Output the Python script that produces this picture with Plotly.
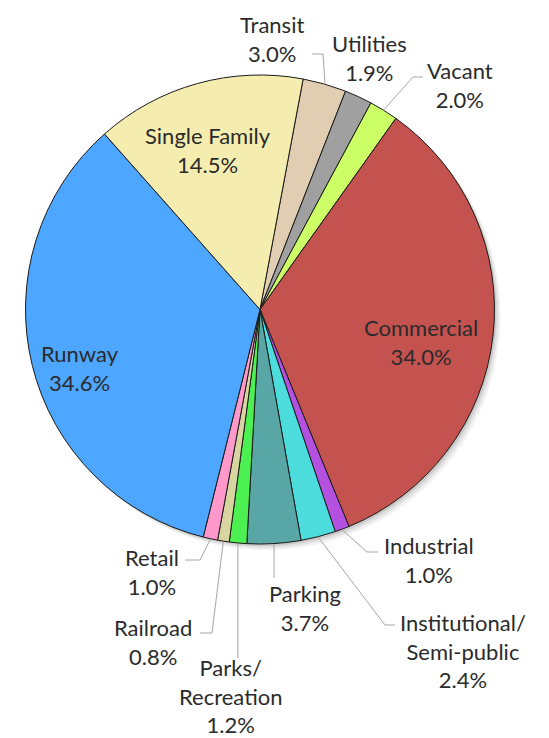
import math
import plotly.graph_objects as go

# ---- data ----
categories = ["Transit", "Utilities", "Vacant", "Commercial", "Industrial",
              "Institutional/<br>Semi-public", "Parking", "Parks/<br>Recreation",
              "Railroad", "Retail", "Runway", "Single Family"]
values = [3.0, 1.9, 2.0, 34.0, 1.0, 2.4, 3.7, 1.2, 0.8, 1.0, 34.6, 14.5]
colors = ["#e1cdb2", "#a0a0a0", "#ccff66", "#c4524f", "#b551e0", "#4cdcdc",
          "#59a6a6", "#4cf050", "#d9d5a0", "#ff99cc", "#4da6ff", "#f5edb0"]

# ---- layout (screen pixels) ----
W, H = 549, 738
OFF = 8  # page body margin
FW, FH = W - OFF, H - OFF
CX, CY, R = 260.0, 309.5, 234.5
ROT = 10.6
FONT = "Lato"
FS = 22
TXT = "#2b2b2b"

def px(x):
    return (x - OFF) / FW

def py(y):
    return 1 - (y - OFF) / FH

# label centre positions (px) per slice index
label_pos = {0: (272, 39), 1: (369, 58), 2: (460, 85), 3: (421, 342),
             4: (429, 560), 5: (463, 651), 6: (305, 608), 7: (230, 696),
             8: (153, 642), 9: (152, 572), 10: (80, 368), 11: (208, 150)}
# leader elbow/end points (px); 'v' means vertical line to given y
leaders = {0: [(323, 54), (312, 54)],
           2: [(413, 77), (423, 77)],
           4: [(367, 552), (378, 552)],
           5: [(385, 625), (395, 625)],
           6: [("v", 578)],
           7: [("v", 658)],
           8: [(212, 633), (200, 633)],
           9: [(200, 560), (185, 560)]}

fig = go.Figure()
fig.add_trace(go.Pie(
    labels=categories, values=values, sort=False, direction="clockwise",
    rotation=ROT, textinfo="none", hoverinfo="label+percent",
    marker=dict(colors=colors, line=dict(color="#1a1a1a", width=1)),
    domain=dict(x=[px(CX - R), px(CX + R)], y=[py(CY + R), py(CY - R)]),
    showlegend=False,
))

shapes = []
# soft shadow
for off, op in [(6, 0.05), (4, 0.07), (2, 0.10)]:
    shapes.append(dict(type="circle", xref="paper", yref="paper", layer="below",
                       x0=px(CX - R + off), x1=px(CX + R + off),
                       y0=py(CY + R + off), y1=py(CY - R + off),
                       fillcolor=f"rgba(0,0,0,{op})", line=dict(width=0)))

total = sum(values)
cum = 0.0
annotations = []
for i, (cat, v) in enumerate(zip(categories, values)):
    mid = ROT + (cum + v / 2) / total * 360.0
    cum += v
    a = math.radians(mid)
    sx, sy = CX + (R + 1) * math.sin(a), CY - (R + 1) * math.cos(a)
    if i in leaders:
        pts = [(sx, sy)]
        for p in leaders[i]:
            if p[0] == "v":
                pts.append((sx, p[1]))
            else:
                pts.append(p)
        path = "M " + " L ".join(f"{px(x)},{py(y)}" for x, y in pts)
        shapes.append(dict(type="path", xref="paper", yref="paper", path=path,
                           line=dict(color="#a6a6a6", width=1)))
    lx, ly = label_pos[i]
    annotations.append(dict(
        x=px(lx), y=py(ly), xref="paper", yref="paper", showarrow=False,
        text=f"{cat}<br>{v:.1f}%", align="center", xanchor="center",
        yanchor="middle", font=dict(family=FONT, size=FS, color=TXT)))

fig.update_layout(
    width=FW, height=FH, margin=dict(l=0, r=0, t=0, b=0),
    paper_bgcolor="white", plot_bgcolor="white",
    shapes=shapes, annotations=annotations,
)
fig.write_html("out.html")
